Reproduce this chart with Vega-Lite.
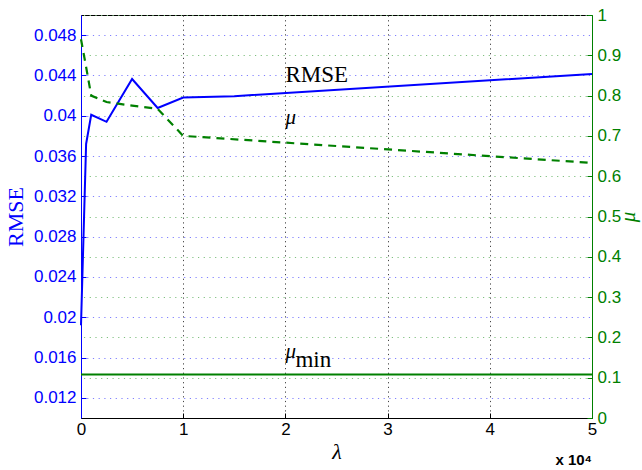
{
  "$schema": "https://vega.github.io/schema/vega-lite/v6.json",
  "width": 511,
  "height": 403,
  "autosize": {"type": "none"},
  "padding": {"left": 81, "top": 15, "right": 50, "bottom": 52},
  "background": "white",
  "config": {
    "view": {"stroke": "black", "strokeWidth": 1},
    "axis": {"labelFont": "Liberation Sans", "labelFontSize": 17, "titleFontWeight": "normal", "labelFlush": false, "labelOverlap": false}
  },
  "title": {"text": "x 10⁴", "orient": "bottom", "anchor": "end", "frame": "group", "fontSize": 15, "font": "Liberation Sans", "fontWeight": "bold", "offset": -9, "color": "black"},
  "datasets": {
    "rmse": [
      {"lambda": 0, "value": 0.0192},
      {"lambda": 500, "value": 0.0372},
      {"lambda": 1000, "value": 0.0401},
      {"lambda": 2500, "value": 0.0394},
      {"lambda": 5000, "value": 0.04365},
      {"lambda": 7500, "value": 0.04077},
      {"lambda": 10000, "value": 0.04181},
      {"lambda": 15000, "value": 0.04194},
      {"lambda": 50000, "value": 0.04414}
    ],
    "mu": [
      {"lambda": 0, "value": 0.94},
      {"lambda": 500, "value": 0.871},
      {"lambda": 1000, "value": 0.80},
      {"lambda": 2500, "value": 0.784},
      {"lambda": 5000, "value": 0.775},
      {"lambda": 7500, "value": 0.767},
      {"lambda": 10000, "value": 0.700},
      {"lambda": 50000, "value": 0.633}
    ],
    "mumin": [
      {"lambda": 0, "value": 0.108},
      {"lambda": 50000, "value": 0.108}
    ],
    "rmseLabel": [{"lambda": 20000, "value": 0.04335, "label": "RMSE"}],
    "muLabel": [
      {"lambda": 20000, "value": 0.7295, "label": "μ"},
      {"lambda": 20000, "value": 0.149, "label": "μ"}
    ],
    "minLabel": [{"lambda": 20000, "value": 0.1266, "label": "min"}]
  },
  "encoding": {
    "x": {
      "field": "lambda", "type": "quantitative",
      "scale": {"domain": [0, 50000], "nice": false, "zero": false},
      "axis": {
        "title": "λ", "titleFont": "Liberation Serif", "titleFontStyle": "italic", "titleFontSize": 22, "titlePadding": 4, "titleColor": "black",
        "values": [0, 10000, 20000, 30000, 40000, 50000],
        "labelExpr": "datum.value/10000",
        "tickSize": -5, "tickColor": "black", "domainColor": "black", "labelColor": "black", "labelPadding": 8,
        "grid": true, "gridColor": "#444444", "gridDash": [1.2, 3.5], "gridWidth": 1
      }
    }
  },
  "layer": [
    {
      "encoding": {
        "y": {
          "field": "value", "type": "quantitative",
          "scale": {"domain": [0.01, 0.05], "nice": false, "zero": false},
          "axis": {
            "orient": "left", "title": "RMSE", "titleFont": "Liberation Serif", "titleFontSize": 22, "titleColor": "#0000ff", "titlePadding": 6,
            "values": [0.012, 0.016, 0.02, 0.024, 0.028, 0.032, 0.036, 0.04, 0.044, 0.048],
            "format": "~g",
            "tickSize": -5, "tickColor": "#0000ff", "domainColor": "#0000ff", "labelColor": "#0000ff", "labelPadding": 10,
            "grid": true, "gridColor": "#8080ff", "gridDash": [1.2, 4.5], "gridWidth": 1
          }
        }
      },
      "layer": [
        {"data": {"name": "rmse"}, "mark": {"type": "line", "color": "#0000ff", "strokeWidth": 2}},
        {"data": {"name": "rmseLabel"}, "mark": {"type": "text", "align": "left", "baseline": "alphabetic", "font": "Liberation Serif", "fontSize": 23, "color": "black"}, "encoding": {"text": {"field": "label"}}}
      ]
    },
    {
      "encoding": {
        "y": {
          "field": "value", "type": "quantitative",
          "scale": {"domain": [0, 1], "nice": false, "zero": false},
          "axis": {
            "orient": "right", "title": "μ", "titleFont": "Liberation Serif", "titleFontStyle": "italic", "titleFontSize": 21, "titleColor": "#008000", "titleAngle": -90, "titlePadding": 18,
            "values": [0, 0.1, 0.2, 0.3, 0.4, 0.5, 0.6, 0.7, 0.8, 0.9, 1],
            "format": "~g",
            "tickSize": -5, "tickColor": "#008000", "domainColor": "#008000", "labelColor": "#008000", "labelPadding": 10,
            "grid": true, "gridColor": "#80c080", "gridDash": [1.2, 4.5], "gridWidth": 1
          }
        }
      },
      "layer": [
        {"data": {"name": "mu"}, "mark": {"type": "line", "color": "#008000", "strokeWidth": 2.2, "strokeDash": [8, 6]}},
        {"data": {"name": "mumin"}, "mark": {"type": "line", "color": "#008000", "strokeWidth": 2.2}},
        {"data": {"name": "muLabel"}, "mark": {"type": "text", "align": "left", "baseline": "alphabetic", "font": "Liberation Serif", "fontStyle": "italic", "fontSize": 21, "color": "black"}, "encoding": {"text": {"field": "label"}}},
        {"data": {"name": "minLabel"}, "mark": {"type": "text", "align": "left", "baseline": "alphabetic", "font": "Liberation Serif", "fontSize": 23, "color": "black", "dx": 10}, "encoding": {"text": {"field": "label"}}}
      ]
    }
  ],
  "resolve": {"scale": {"y": "independent"}}
}
